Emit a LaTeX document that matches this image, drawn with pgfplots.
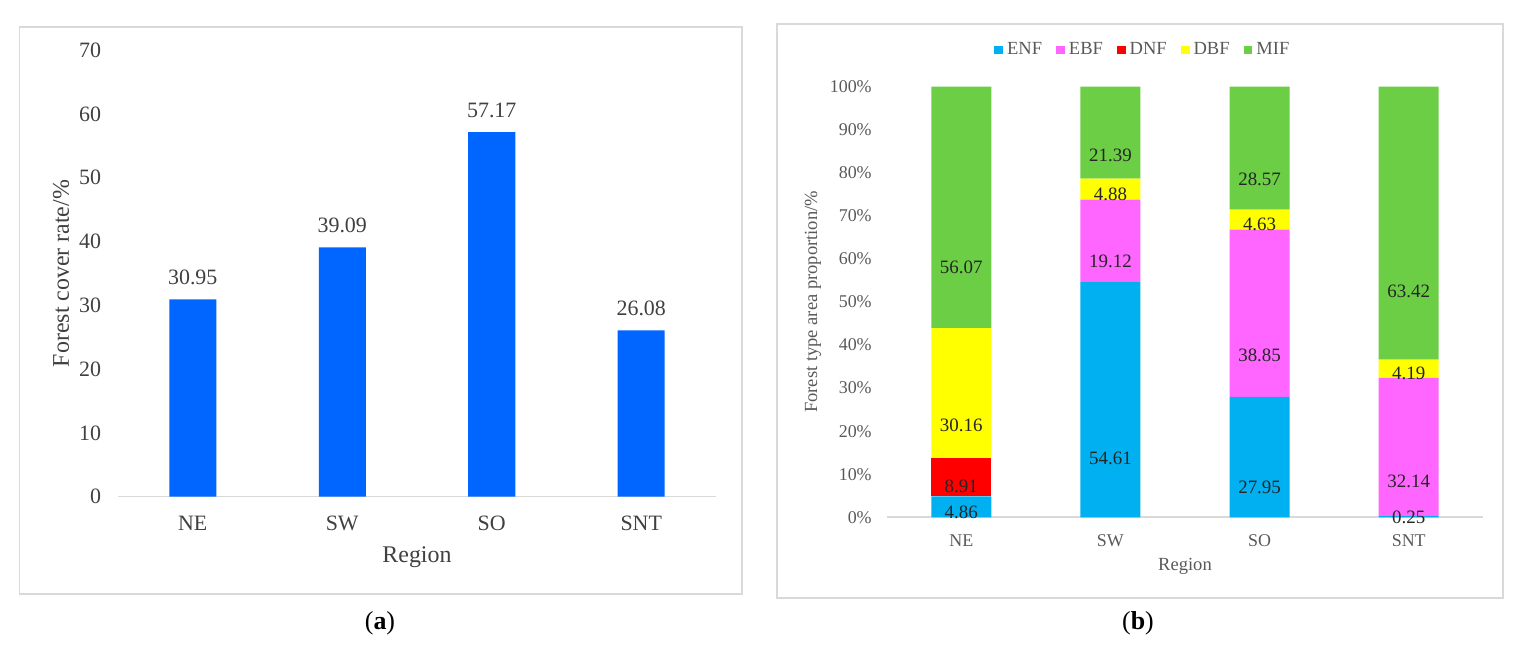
\documentclass[border=0pt]{standalone}
\usepackage{fontspec}
\setmainfont{Liberation Serif}
\usepackage{pgfplots}
\pgfplotsset{compat=1.18}

\definecolor{barBlue}{RGB}{0,102,255}
\definecolor{enfC}{RGB}{0,176,240}
\definecolor{ebfC}{RGB}{255,102,255}
\definecolor{dnfC}{RGB}{255,0,0}
\definecolor{dbfC}{RGB}{255,255,0}
\definecolor{mifC}{RGB}{108,206,68}
\definecolor{frameC}{RGB}{217,217,217}
\definecolor{tickC}{RGB}{64,64,64}
\definecolor{tickB}{RGB}{89,89,89}

\pgfplotsset{
  /pgf/number format/assume math mode=true,
  excelaxis/.style={
    scale only axis,
    enlargelimits=false,
    axis x line*=bottom,
    axis y line*=left,
    x axis line style={draw=frameC, line width=0.8bp},
    y axis line style={draw=none},
    major tick length=0pt,
    xmin=-0.5, xmax=3.5,
    xtick={0,1,2,3},
    xticklabels={NE,SW,SO,SNT},
    every axis y label/.style={rotate=90, anchor=center},
    every axis x label/.style={anchor=center},
  }
}

\begin{document}
\begin{tikzpicture}
\path (0,0) rectangle (761bp,328.5bp);
% panel frames
\draw[frameC, line width=0.8bp] (9.75bp,31.5bp) rectangle (371bp,315bp);
\draw[frameC, line width=0.8bp] (388.5bp,29.5bp) rectangle (751.5bp,316.5bp);

% (a) forest cover rate
\begin{axis}[excelaxis,
  at={(59bp,80.15bp)}, anchor=south west,
  width=299bp, height=223.25bp,
  ybar, bar width=23.5bp,
  ymin=0, ymax=70, ytick={0,10,...,70},
  tick label style={font=\fontsize{11}{13}\selectfont, text=tickC},
  yticklabel style={xshift=-5bp},
  xticklabel style={anchor=base, yshift=-17bp},
  ylabel={Forest cover rate/\%},
  xlabel={Region},
  label style={font=\fontsize{12}{14}\selectfont, text=tickC},
  every axis y label/.append style={at={(axis description cs:-0.0953,0.5)}},
  every axis x label/.append style={at={(axis description cs:0.5,-0.135)}},
  nodes near coords={\pgfmathprintnumber[fixed,fixed zerofill,precision=2]{\pgfplotspointmeta}},
  every node near coord/.append style={anchor=base, yshift=7.3bp,
    font=\fontsize{11}{13}\selectfont, text=tickC},
]
\addplot[fill=barBlue, draw=none] coordinates {
  (0,30.95) (1,39.09) (2,57.17) (3,26.08)
};
\end{axis}

% (b) forest type area proportion
\begin{axis}[excelaxis,
  at={(443.35bp,69.85bp)}, anchor=south west,
  width=298.3bp, height=215.35bp,
  ybar stacked, bar width=30bp,
  ymin=0, ymax=100, ytick={0,10,...,100},
  yticklabel={\pgfmathprintnumber{\tick}\%},
  tick label style={font=\fontsize{9}{11}\selectfont, text=tickB},
  yticklabel style={xshift=-4bp},
  xticklabel style={anchor=base, yshift=-14.4bp},
  ylabel={Forest type area proportion/\%},
  xlabel={Region},
  label style={font=\fontsize{9.3}{11}\selectfont, text=tickB},
  every axis y label/.append style={at={(axis description cs:-0.1235,0.5)}},
  every axis x label/.append style={at={(axis description cs:0.5,-0.113)}},
  visualization depends on=rawy \as \rawy,
  nodes near coords={\pgfmathfloatifflags{\pgfplotspointmeta}{0}{}{\pgfmathprintnumber[fixed,fixed zerofill,precision=2]{\pgfplotspointmeta}}},
  every node near coord/.append style={anchor=center,
    shift={(axis direction cs:0,-\rawy/4)},
    font=\fontsize{9.5}{11}\selectfont, text=black!85},
  legend columns=-1,
  legend image code/.code={\fill[#1] (0bp,-2.2bp) rectangle (4.4bp,2.2bp);},
  legend style={at={(axis description cs:0.431,1.085)}, anchor=center,
    draw=none, fill=none, font=\fontsize{9.3}{11}\selectfont, text=tickB,
    /tikz/every even column/.append style={column sep=5bp}},
]
\addplot[fill=enfC, draw=none] coordinates {(0,4.86) (1,54.61) (2,27.95) (3,0.25)};
\addplot[fill=ebfC, draw=none] coordinates {(0,0) (1,19.12) (2,38.85) (3,32.14)};
\addplot[fill=dnfC, draw=none] coordinates {(0,8.91) (1,0) (2,0) (3,0)};
\addplot[fill=dbfC, draw=none] coordinates {(0,30.16) (1,4.88) (2,4.63) (3,4.19)};
\addplot[fill=mifC, draw=none] coordinates {(0,56.07) (1,21.39) (2,28.57) (3,63.42)};
\legend{ENF,EBF,DNF,DBF,MIF}
\end{axis}

% sub-figure captions
\node[font=\fontsize{13}{15}\selectfont] at (190bp,17bp) {(\textbf{a})};
\node[font=\fontsize{13}{15}\selectfont] at (569bp,17bp) {(\textbf{b})};
\end{tikzpicture}
\end{document}
